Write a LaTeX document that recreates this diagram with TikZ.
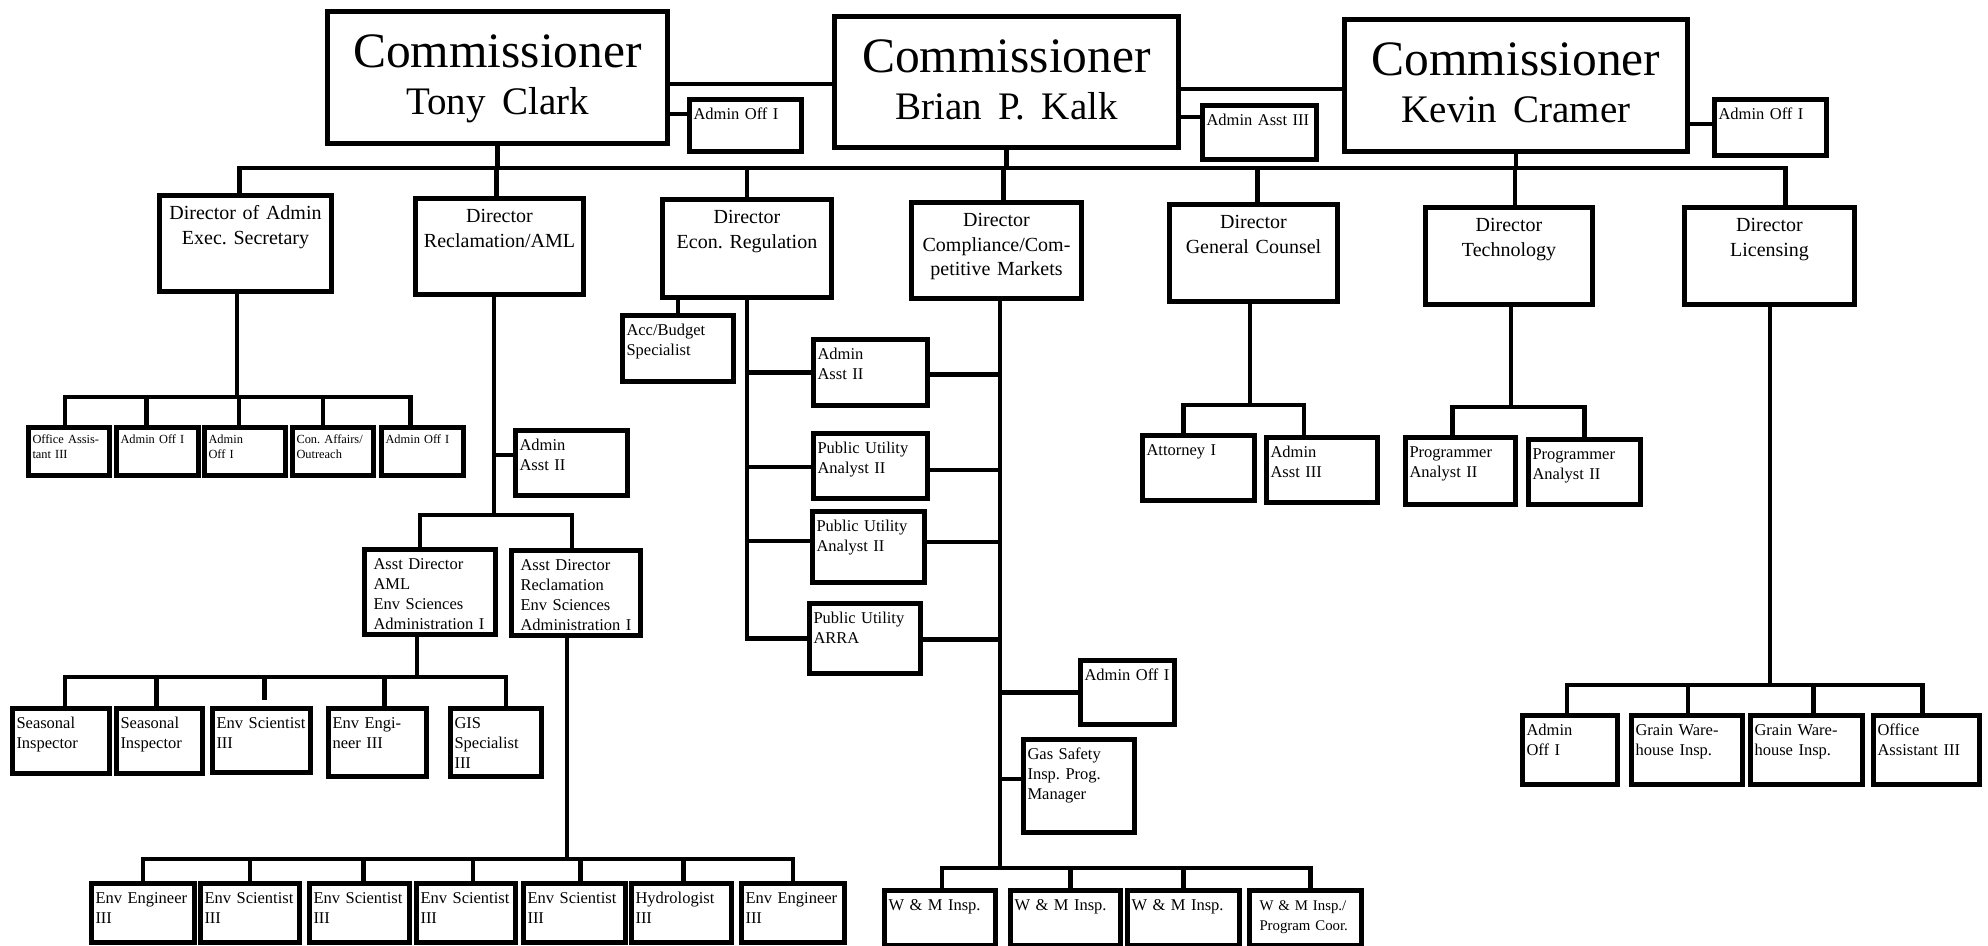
\documentclass[tikz,border=0pt]{standalone}
\usepackage{fontspec}
\setmainfont{Liberation Serif}
\frenchspacing
\tikzset{
  box/.style={draw, line width=5pt, anchor=north west, inner xsep=4pt, inner ysep=2pt},
  commish/.style 2 args={box, align=center, font=\fontsize{49.5}{47}\selectfont,
    text width=#1pt-8pt, text height=54pt, text depth=#2pt-58pt},
  director/.style 2 args={box, align=center, font=\fontsize{20}{24.5}\selectfont,
    text width=#1pt-8pt, text height=22pt, text depth=#2pt-26pt},
  staff/.style 2 args={box, align=left, font=\fontsize{16.5}{20}\selectfont,
    text width=#1pt-8pt, text height=18pt, text depth=#2pt-22pt},
  clerk/.style 2 args={box, align=left, font=\fontsize{12.4}{15}\selectfont,
    text width=#1pt-8pt, text height=14pt, text depth=#2pt-18pt},
  link/.style={line width=4.5pt}
}
\begin{document}
\begin{tikzpicture}[x=1pt, y=-1pt]
  \useasboundingbox (0,0) rectangle (1988,945);

  \node[commish={340}{132}] (clark)  at (325,9)   {Commissioner\\{\fontsize{39}{47}\selectfont Tony Clark}};
  \node[commish={344}{131}] (kalk)   at (832,14)  {Commissioner\\{\fontsize{39}{47}\selectfont Brian P. Kalk}};
  \node[commish={343}{132}] (cramer) at (1342,17) {Commissioner\\{\fontsize{39}{47}\selectfont Kevin Cramer}};
  \node[staff={112}{52}] (clarkoff)  at (687,97)   {Admin Off I};
  \node[staff={114}{54}] (kalkasst)  at (1200,103) {Admin Asst III};
  \node[staff={112}{56}] (crameroff) at (1712,97)  {Admin Off I};

  \node[director={172}{96}] (diradmin) at (157,193)  {Director of Admin\\Exec. Secretary};
  \node[director={168}{96}] (dirrecl)  at (413,196)  {Director\\Reclamation/AML};
  \node[director={169}{98}] (direcon)  at (660,197)  {Director\\Econ. Regulation};
  \node[director={170}{96}] (dircomp)  at (909,200)  {Director\\Compliance/Com-\\petitive Markets};
  \node[director={168}{97}] (dirgc)    at (1167,202) {Director\\General Counsel};
  \node[director={167}{97}] (dirtech)  at (1423,205) {Director\\Technology};
  \node[director={170}{97}] (dirlic)   at (1682,205) {Director\\Licensing};

  \foreach \n/\x/\w/\t in {aoa/26/81/{Office Assis-\\tant III}, aoff1/114/82/{Admin Off I},
      aoff2/202/81/{Admin\\Off I}, acon/290/81/{Con. Affairs/\\Outreach}, aoff3/379/82/{Admin Off I}}
    \node[clerk={\w}{48}] (\n) at (\x,425) {\t};

  \node[staff={112}{65}] (reclasst) at (513,428) {Admin\\Asst II};
  \node[staff={121}{85}, inner xsep=9pt] (amladir) at (362,547) {Asst Director\\AML\\Env Sciences\\Administration I};
  \node[staff={119}{85}, inner xsep=9pt] (recladir) at (509,548) {Asst Director\\Reclamation\\Env Sciences\\Administration I};

  \foreach \n/\x/\w/\h/\t in {seas1/10/97/65/{Seasonal\\Inspector}, seas2/114/86/65/{Seasonal\\Inspector},
      envsci1/210/98/64/{Env Scientist\\III}, enveng1/326/98/68/{Env Engi-\\neer III}, gis/448/91/68/{GIS\\Specialist\\III}}
    \node[staff={\w}{\h}] (\n) at (\x,706) {\t};

  \foreach \n/\x/\w/\t in {be1/89/103/{Env Engineer\\III}, be2/198/99/{Env Scientist\\III}, be3/307/100/{Env Scientist\\III},
      be4/414/99/{Env Scientist\\III}, be5/521/102/{Env Scientist\\III}, hydro/629/100/{Hydrologist\\III}, be7/739/103/{Env Engineer\\III}}
    \node[staff={\w}{59}] (\n) at (\x,881) {\t};

  \node[staff={111}{66}] (acc)   at (620,313) {Acc/Budget\\Specialist};
  \node[staff={114}{66}] (easst) at (811,337) {Admin\\Asst II};
  \node[staff={114}{65}] (pua1)  at (811,431) {Public Utility\\Analyst II};
  \node[staff={112}{71}] (pua2)  at (810,509) {Public Utility\\Analyst II};
  \node[staff={111}{70}] (arra)  at (807,601) {Public Utility\\ARRA};

  \node[staff={94}{64}]  (cmpoff) at (1078,658) {Admin Off I};
  \node[staff={111}{93}] (gas)    at (1021,737) {Gas Safety\\Insp. Prog.\\Manager};
  \foreach \n/\x/\w in {wm1/882/111, wm2/1008/110, wm3/1125/112}
    \node[staff={\w}{55}] (\n) at (\x,888) {W \& M Insp.};
  \node[staff={100}{55}, inner xsep=10pt, font=\fontsize{14.8}{20}\selectfont] (wm4) at (1247,888) {W \& M Insp./\\Program Coor.};

  \node[staff={112}{65}] (att)    at (1140,433) {Attorney I};
  \node[staff={111}{65}] (gcasst) at (1264,435) {Admin\\Asst III};
  \node[staff={110}{67}] (prog1)  at (1403,435) {Programmer\\Analyst II};
  \node[staff={112}{65}] (prog2)  at (1526,437) {Programmer\\Analyst II};

  \foreach \n/\x/\w/\t in {licoff/1520/95/{Admin\\Off I}, grain1/1629/111/{Grain Ware-\\house Insp.},
      grain2/1748/112/{Grain Ware-\\house Insp.}, licoa/1871/106/{Office\\Assistant III}}
    \node[staff={\w}{69}] (\n) at (\x,713) {\t};

  \coordinate (bus) at (0,168);
  \foreach \n in {clark,kalk,cramer}
    \draw[link] (\n.south) -- (\n.south |- bus);
  \draw[link] ([xshift=-6]diradmin.north) |- ([xshift=16]dirlic.north |- bus) -- ([xshift=16]dirlic.north);
  \foreach \n/\s in {dirrecl/-3,direcon/0,dircomp/7,dirgc/4,dirtech/6}
    \draw[link] ([xshift=\s]\n.north) -- ([xshift=\s]\n.north |- bus);
  \draw[link] (clark.east |- 0,84) -- (kalk.west |- 0,84);
  \draw[link] (kalk.east |- 0,89) -- (cramer.west |- 0,89);
  \draw[link] (clark.east |- 0,114) -- (clarkoff.west |- 0,114);
  \draw[link] (kalk.east |- 0,117) -- (kalkasst.west |- 0,117);
  \draw[link] (cramer.east |- 0,124) -- (crameroff.west |- 0,124);

  \coordinate (abus) at (237,397);
  \draw[link] (diradmin.south -| abus) -- (abus);
  \foreach \n/\s in {aoa/-4,aoff1/-11,aoff2/-6,acon/-10,aoff3/-12}
    \draw[link] (abus) -| ([xshift=\s]\n.north);

  \coordinate (rbus) at (494,515);
  \draw[link] (dirrecl.south -| rbus) -- (rbus);
  \draw[link] (rbus |- 0,455) -- (reclasst.west |- 0,455);
  \draw[link] (rbus) -| ([xshift=-10]amladir.north);
  \draw[link] (rbus) -| ([xshift=-4]recladir.north);

  \coordinate (mbus) at (417,677);
  \draw[link] (amladir.south -| mbus) -- (mbus);
  \foreach \n/\s in {seas1/4,seas2/-3,enveng1/7,gis/10}
    \draw[link] (mbus) -| ([xshift=\s]\n.north);
  \draw[link] (mbus) -| ([xshift=3,yshift=6]envsci1.north);

  \coordinate (sbus) at (567,859);
  \draw[link] (recladir.south -| sbus) -- (sbus);
  \foreach \n/\s in {be1/0,be2/0,be3/4,be4/7,be5/6,hydro/2,be7/0}
    \draw[link] (sbus) -| ([xshift=\s]\n.north);

  \draw[link] (acc.north) -- (acc.north |- direcon.south);
  \draw[link] (direcon.south) |- (arra.west);
  \foreach \n/\s in {easst/0,pua1/-1,pua2/6}
    \draw[link] ([yshift=\s]\n.west) -- ([yshift=\s]\n.west -| direcon.south);
  \coordinate (cbus) at (1000,868);
  \draw[link] (dircomp.south -| cbus) -- (cbus);
  \foreach \n/\s in {easst/-2,pua1/-4,pua2/5,arra/-1}
    \draw[link] ([yshift=\s]\n.east) -- ([yshift=\s]\n.east -| cbus);
  \draw[link] (cmpoff.west) -- (cmpoff.west -| cbus);
  \draw[link] ([yshift=7]gas.west) -- ([yshift=7]gas.west -| cbus);
  \foreach \n/\s in {wm1/2,wm2/5,wm3/0,wm4/5}
    \draw[link] (cbus) -| ([xshift=\s]\n.north);

  \coordinate (gbus) at (1250,405);
  \draw[link] (dirgc.south -| gbus) -- (gbus);
  \foreach \n/\s in {att/-15,gcasst/-18}
    \draw[link] (gbus) -| ([xshift=\s]\n.north);
  \coordinate (tbus) at (1511,407);
  \draw[link] (dirtech.south -| tbus) -- (tbus);
  \foreach \n/\s in {prog1/-8,prog2/0}
    \draw[link] (tbus) -| ([xshift=\s]\n.north);
  \coordinate (lbus) at (1770,685);
  \draw[link] (dirlic.south -| lbus) -- (lbus);
  \foreach \n/\s in {licoff/-3,grain1/1,grain2/7,licoa/-4}
    \draw[link] (lbus) -| ([xshift=\s]\n.north);
\end{tikzpicture}
\end{document}
